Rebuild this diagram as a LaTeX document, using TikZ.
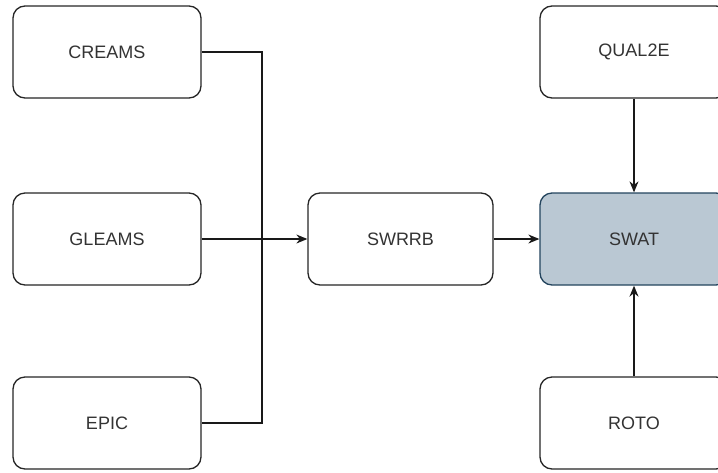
\documentclass[tikz,border=0pt]{standalone}
\usepackage{fontspec}
\setmainfont{Liberation Sans}
\usepackage{xcolor}
\usetikzlibrary{arrows.meta}
\definecolor{swatfill}{RGB}{186,200,211}
\definecolor{swatline}{RGB}{35,68,93}
\tikzset{
  model/.style={draw=black!85,line width=1.3,fill=white,rounded corners=12,
    minimum width=188,minimum height=92,inner sep=0,text=black!80,
    font=\fontsize{18}{20}\selectfont},
  link/.style={draw=black!90,line width=1.3},
  >={Stealth[length=11,width=9]}
}
\begin{document}
\begin{tikzpicture}[x=1pt,y=-1pt]
\clip (0,0) rectangle (718,472);
% inputs -> SWRRB
\node[model] (creams) at (107,52) {CREAMS};
\node[model] (gleams) at (107,239) {GLEAMS};
\node[model] (epic) at (107,423) {EPIC};
\node[model,minimum width=185] (swrrb) at (400.5,239) {SWRRB};
\coordinate (merge) at (262,239);
\draw[link] (creams.east) -| (merge) |- (epic.east);
\draw[link,->] (gleams.east) -- (swrrb.west);
% SWRRB, QUAL2E, ROTO -> SWAT
\node[model,fill=swatfill,draw=swatline] (swat) at (634,239) {SWAT};
\node[model] (qual) at (634,52) {QUAL2E};
\node[model] (roto) at (634,423) {ROTO};
\draw[link,->] (swrrb.east) -- (swat.west);
\draw[link,->] (qual.south) -- (swat.north);
\draw[link,->] (roto.north) -- (swat.south);
\end{tikzpicture}
\end{document}
